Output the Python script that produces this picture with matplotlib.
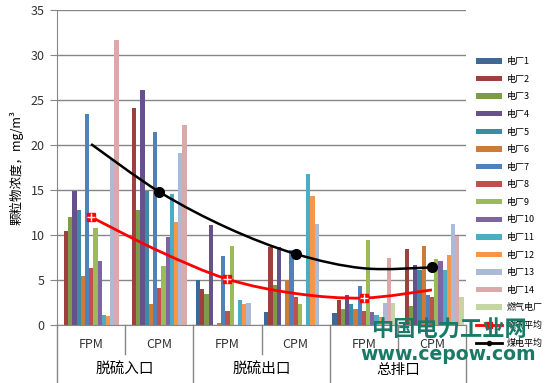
import numpy as np
import matplotlib
matplotlib.use("Agg")
import matplotlib.pyplot as plt
from matplotlib.path import Path
from matplotlib.patches import PathPatch
from matplotlib.lines import Line2D

plt.rcParams["font.family"] = ["Noto Sans CJK SC", "DejaVu Sans"]

# ---- data ----
sub_labels = ["FPM", "CPM", "FPM", "CPM", "FPM", "CPM"]
group_labels = ["脱硫入口", "脱硫出口", "总排口"]
series_names = ["电厂%d" % i for i in range(1, 15)] + ["燃气电厂"]

plant_values = [
    [0.0, 0.0, 5.0, 1.4, 1.3, 0.0],      # 电厂1
    [10.5, 24.1, 4.0, 8.7, 2.8, 8.4],    # 电厂2
    [12.0, 12.8, 3.5, 4.4, 1.8, 2.1],    # 电厂3
    [14.9, 26.1, 11.1, 8.7, 3.3, 6.7],   # 电厂4
    [12.8, 14.9, 0.0, 0.0, 2.3, 6.1],    # 电厂5
    [5.4, 2.3, 0.2, 5.0, 1.8, 8.8],      # 电厂6
    [23.4, 21.5, 7.7, 8.3, 4.3, 3.3],    # 电厂7
    [6.3, 4.1, 1.6, 3.1, 1.6, 3.1],      # 电厂8
    [10.8, 6.6, 8.8, 2.3, 9.4, 7.3],     # 电厂9
    [7.1, 9.8, 0.0, 0.0, 1.4, 7.1],      # 电厂10
    [1.15, 14.6, 2.8, 16.8, 1.1, 6.1],   # 电厂11
    [1.0, 11.4, 2.3, 14.3, 0.9, 7.8],    # 电厂12
    [18.4, 19.1, 2.4, 11.2, 2.4, 11.2],  # 电厂13
    [31.7, 22.2, 0.0, 0.0, 7.4, 9.9],    # 电厂14
    [0.0, 0.0, 0.0, 0.0, 2.4, 3.1],      # 燃气电厂
]

red_avg = [12.0, 8.2, 5.1, 3.5, 3.0, 3.9]      # 燃气平均
black_avg = [20.1, 14.8, 10.8, 7.9, 6.3, 6.4]  # 煤电平均

colors = ["#3E6997", "#9E413E", "#7F9A48", "#67518A", "#3A8DA4", "#CC7B38",
          "#4F81BD", "#C0504D", "#9BBB59", "#8064A2", "#4BACC6", "#F79646",
          "#AABAD7", "#D9AAA9", "#C3D6A4"]


def smooth_path(xs, ys):
    # Excel 风格平滑线：用三次贝塞尔曲线连接数据点
    pts = np.column_stack([xs, ys]).astype(float)
    n = len(pts)
    verts = [pts[0]]
    codes = [Path.MOVETO]
    for i in range(n - 1):
        p0 = pts[max(i - 1, 0)]
        p1 = pts[i]
        p2 = pts[i + 1]
        p3 = pts[min(i + 2, n - 1)]
        c1 = p1 + (p2 - p0) / 6.0
        c2 = p2 - (p3 - p1) / 6.0
        verts += [c1, c2, p2]
        codes += [Path.CURVE4] * 3
    return Path(verts, codes)


fig = plt.figure(figsize=(5.48, 3.83), dpi=100)
ax = fig.add_axes([0.104, 0.1514, 0.7464, 0.8225])

x = np.arange(len(sub_labels))
n_series = len(series_names)
bar_w = 0.0616
start = -0.46
for k in range(n_series):
    ax.bar(x + start + (k + 0.5) * bar_w, plant_values[k], width=bar_w,
           color=colors[k], linewidth=0, zorder=2, label=series_names[k])

# 平均线
red_patch = PathPatch(smooth_path(x, red_avg), facecolor="none",
                      edgecolor="#FF0000", linewidth=2.0, zorder=4)
ax.add_patch(red_patch)
ax.plot(x[0::2], red_avg[0::2], linestyle="none", marker="s", markersize=6,
        color="#FF0000", zorder=5)
ax.plot(x[0::2], red_avg[0::2], linestyle="none", marker="+", markersize=6,
        markeredgewidth=1.0, color="white", zorder=6)

black_patch = PathPatch(smooth_path(x, black_avg), facecolor="none",
                        edgecolor="black", linewidth=1.8, zorder=4)
ax.add_patch(black_patch)
ax.plot(x[1::2], black_avg[1::2], linestyle="none", marker="o", markersize=7,
        color="black", zorder=5)

ax.set_xlim(-0.5, 5.5)
ax.set_ylim(0, 35)
ax.set_yticks(np.arange(0, 36, 5))
ax.grid(axis="y", color="#868686", linewidth=1.0, zorder=0)
ax.set_axisbelow(True)
for s in ["top", "right"]:
    ax.spines[s].set_visible(False)
ax.spines["left"].set_color("#868686")
ax.spines["bottom"].set_color("#868686")
ax.tick_params(axis="y", length=5, color="#868686", pad=4, labelsize=9,
               labelcolor="#333333")
ax.set_xticks(x)
ax.set_xticklabels(sub_labels, fontsize=9, color="#333333")
ax.tick_params(axis="x", length=0, pad=9)

# 二级分类标签与分隔线
trans = ax.get_xaxis_transform()
for i, g in enumerate(group_labels):
    ax.text(2 * i + 0.5, -0.142, g, transform=trans, ha="center", va="center",
            fontsize=10.5, color="black")
for b in [-0.5, 1.5, 3.5, 5.5]:
    ax.plot([b, b], [0, -0.185], transform=trans, color="#868686",
            linewidth=1.0, clip_on=False)
for b in [0.5, 2.5, 4.5]:
    ax.plot([b, b], [0, -0.093], transform=trans, color="#868686",
            linewidth=1.0, clip_on=False)

ax.set_ylabel("颗粒物浓度，mg/m³", fontsize=9, labelpad=5)

handles, labels = ax.get_legend_handles_labels()
handles += [Line2D([], [], color="#FF0000", linewidth=2, marker="s", markersize=4),
            Line2D([], [], color="black", linewidth=2, marker="o", markersize=3)]
labels += ["燃气平均", "煤电平均"]
fig.legend(handles, labels, loc="upper left", bbox_to_anchor=(0.862, 0.86),
           frameon=False, fontsize=6.5, handlelength=2.9, handleheight=0.55,
           labelspacing=0.95, handletextpad=0.5, borderaxespad=0)

# 水印
fig.text(0.819, 0.138, "中国电力工业网", fontsize=16, fontweight="bold",
         color="#1A7A68", ha="center", va="center", zorder=20)
fig.text(0.817, 0.075, "www.cepow.com", fontsize=13.6, fontweight="bold",
         color="#1A7A68", ha="center", va="center", zorder=20,
         family="DejaVu Sans")

fig.savefig("out.png", dpi=100)
